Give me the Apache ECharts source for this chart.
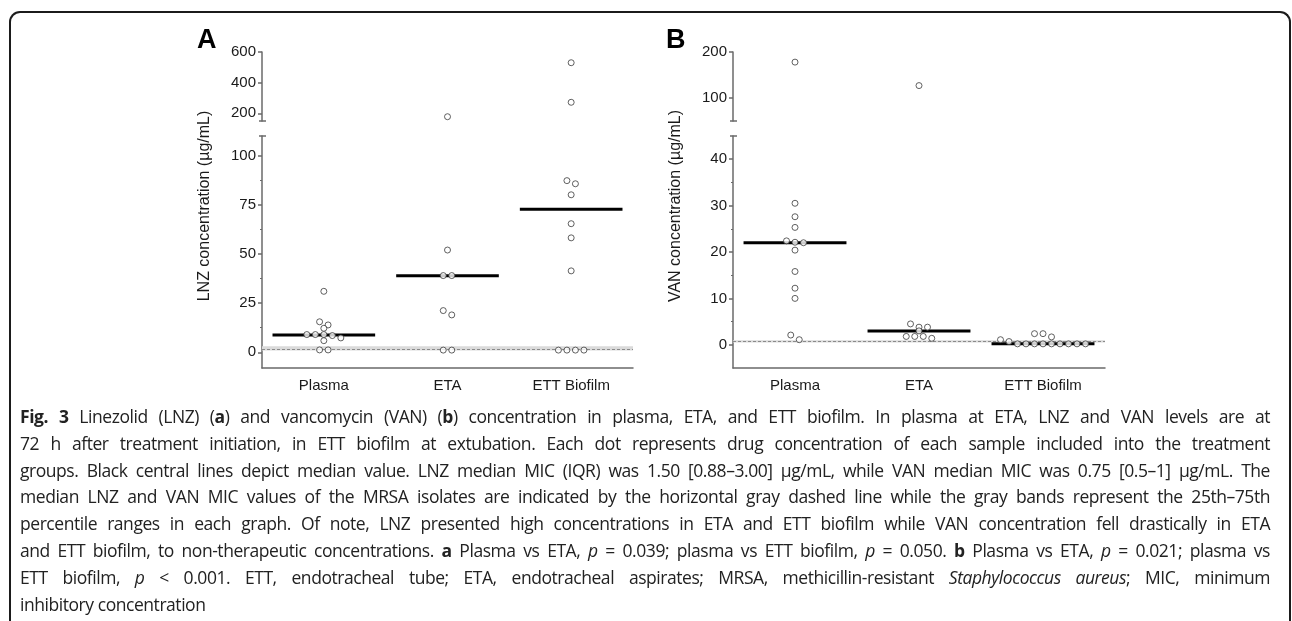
<!DOCTYPE html>
<html>
<head>
<meta charset="utf-8">
<script src="https://cdn.jsdelivr.net/npm/echarts@6/dist/echarts.min.js"></script>
<style>
  html, body { margin: 0; padding: 0; background: #fff; width: 1292px; height: 621px; overflow: hidden; }
  #chart { position: absolute; left: 0; top: 0; width: 1292px; height: 400px; }
  .frame { position: absolute; left: 9px; top: 11px; width: 1278px; height: 700px; border: 2px solid #1b1b1b;
           border-bottom: none; border-radius: 11px 11px 0 0; pointer-events: none; }
  .caption { position: absolute; left: 20px; top: 403px; width: 1250px; font-family: "Open Sans", sans-serif;
             font-size: 17.5px; line-height: 26.8px; color: #222; letter-spacing: -0.45px; }
  .caption div { white-space: nowrap; text-align: justify; text-align-last: justify; }
  .caption div.last { text-align-last: left; }
</style>
</head>
<body>
<div id="chart"></div>
<div class="frame"></div>
<div class="caption" id="caption">
  <div><b>Fig. 3</b> Linezolid (LNZ) (<b>a</b>) and vancomycin (VAN) (<b>b</b>) concentration in plasma, ETA, and ETT biofilm. In plasma at ETA, LNZ and VAN levels are at</div>
  <div>72 h after treatment initiation, in ETT biofilm at extubation. Each dot represents drug concentration of each sample included into the treatment</div>
  <div>groups. Black central lines depict median value. LNZ median MIC (IQR) was 1.50 [0.88–3.00] µg/mL, while VAN median MIC was 0.75 [0.5–1] µg/mL. The</div>
  <div>median LNZ and VAN MIC values of the MRSA isolates are indicated by the horizontal gray dashed line while the gray bands represent the 25th–75th</div>
  <div>percentile ranges in each graph. Of note, LNZ presented high concentrations in ETA and ETT biofilm while VAN concentration fell drastically in ETA</div>
  <div>and ETT biofilm, to non-therapeutic concentrations. <b>a</b> Plasma vs ETA, <i>p</i> = 0.039; plasma vs ETT biofilm, <i>p</i> = 0.050. <b>b</b> Plasma vs ETA, <i>p</i> = 0.021; plasma vs</div>
  <div>ETT biofilm, <i>p</i> &lt; 0.001. ETT, endotracheal tube; ETA, endotracheal aspirates; MRSA, methicillin-resistant <i>Staphylococcus aureus</i>; MIC, minimum</div>
  <div class="last">inhibitory concentration</div>
</div>
<script>
// values (µg/mL)
const categories = ['Plasma', 'ETA', 'ETT Biofilm'];

const lnzPlasma = [31, 15.5, 13.9, 12.2, 9.0, 9.0, 9.0, 8.5, 7.3, 5.9, 1.2, 1.2];
const lnzEta = [178, 52, 39, 39, 21.2, 19, 1.1, 1.1];
const lnzBiofilm = [530, 272, 87.3, 85.7, 80.1, 65.4, 58.2, 41.4, 1.1, 1.1, 1.1, 1.1];
const lnzMedians = [8.8, 38.9, 72.7];
const lnzMic = [0.88, 1.5, 3.0]; // q1, median, q3

const vanPlasma = [178, 30.5, 27.6, 25.3, 22.4, 22.1, 22.0, 20.4, 15.8, 12.2, 10.0, 2.1, 1.1];
const vanEta = [127, 4.5, 3.8, 3.8, 3.0, 1.8, 1.8, 1.8, 1.4];
const vanBiofilm = [2.4, 2.4, 1.7, 1.1, 0.7, 0.2, 0.2, 0.2, 0.2, 0.2, 0.2, 0.2, 0.2, 0.2];
const vanMedians = [22.0, 3.0, 0.2];
const vanMic = [0.5, 0.75, 1.0];

const lnzUpperTicks = [200, 400, 600];
const lnzLowerTicks = [0, 25, 50, 75, 100];
const lnzMinorTicks = [12.5, 37.5, 62.5, 87.5];
const vanUpperTicks = [100, 200];
const vanLowerTicks = [0, 10, 20, 30, 40];
const vanMinorTicks = [5, 15, 25, 35];

// layout
const upperTop = 52, upperH = 69, lowerTop = 136, lowerH = 232;
const DOT_STEP = 8.5, ROW_GAP = 5;
const axisColor = '#6a6a6a';
const font = '"Liberation Sans", Arial, sans-serif';

const panels = [
  { letter: 'A', letterX: 197, titleX: 205, left: 262, width: 371, upper: [150, 600], lower: [-8, 110],
    groups: [lnzPlasma, lnzEta, lnzBiofilm], medians: lnzMedians, mic: lnzMic,
    upperTicks: lnzUpperTicks, lowerTicks: lnzLowerTicks, minorTicks: lnzMinorTicks,
    title: 'LNZ concentration (µg/mL)' },
  { letter: 'B', letterX: 666, titleX: 676, left: 733, width: 372, upper: [50, 200], lower: [-5, 45],
    groups: [vanPlasma, vanEta, vanBiofilm], medians: vanMedians, mic: vanMic,
    upperTicks: vanUpperTicks, lowerTicks: vanLowerTicks, minorTicks: vanMinorTicks,
    title: 'VAN concentration (µg/mL)' }
];

function pxOf(p, v) {
  if (v > p.lower[1]) return upperTop + (p.upper[1] - v) / (p.upper[1] - p.upper[0]) * upperH;
  return lowerTop + (p.lower[1] - v) / (p.lower[1] - p.lower[0]) * lowerH;
}

// prism-like scatter: points closer than ROW_GAP px share a row, spread sideways
function swarm(p, values, center) {
  const items = values.map(v => ({ v: v, y: pxOf(p, v) })).sort((a, b) => a.y - b.y || b.v - a.v);
  const rows = [];
  items.forEach(it => {
    const row = rows[rows.length - 1];
    if (row && it.y - row[0].y < ROW_GAP) row.push(it);
    else rows.push([it]);
  });
  const unit = categories.length / p.width;
  const pts = [];
  rows.forEach(row => row.forEach((it, i) => {
    pts.push([center + (i - (row.length - 1) / 2) * DOT_STEP * unit, it.v]);
  }));
  return pts;
}

const option = { animation: false, grid: [], xAxis: [], yAxis: [], series: [], graphic: [] };

const lineStyle = { color: axisColor, width: 1.5 };
const labelStyle = { color: '#1a1a1a', fontSize: 15, fontFamily: font };

panels.forEach(p => {
  const gU = option.grid.length;
  option.grid.push(
    { left: p.left, width: p.width, top: upperTop, height: upperH },
    { left: p.left, width: p.width, top: lowerTop, height: lowerH }
  );
  const xU = option.xAxis.length;
  option.xAxis.push(
    { type: 'value', gridIndex: gU, min: 0, max: 3, show: false },
    { type: 'value', gridIndex: gU + 1, min: 0, max: 3, show: false },
    { type: 'category', gridIndex: gU + 1, data: categories, position: 'bottom',
      axisLine: { onZero: false, lineStyle: lineStyle },
      axisTick: { alignWithLabel: true, length: 3, lineStyle: lineStyle },
      axisLabel: Object.assign({ margin: 10 }, labelStyle), splitLine: { show: false } }
  );
  const yU = option.yAxis.length;
  option.yAxis.push(
    { type: 'value', gridIndex: gU, min: p.upper[0], max: p.upper[1], position: 'left',
      axisLine: { show: true, onZero: false, lineStyle: lineStyle },
      axisTick: { show: true, length: 4, customValues: p.upperTicks, lineStyle: lineStyle },
      axisLabel: Object.assign({ margin: 6, customValues: p.upperTicks }, labelStyle), splitLine: { show: false } },
    { type: 'value', gridIndex: gU + 1, min: p.lower[0], max: p.lower[1], position: 'left',
      axisLine: { show: true, onZero: false, lineStyle: lineStyle },
      axisTick: { show: true, length: 4, customValues: p.lowerTicks, lineStyle: lineStyle },
      axisLabel: Object.assign({ margin: 6, customValues: p.lowerTicks }, labelStyle), splitLine: { show: false } },
    { type: 'value', gridIndex: gU + 1, min: p.lower[0], max: p.lower[1], position: 'left',
      axisLine: { show: false, onZero: false },
      axisTick: { show: true, length: 2, customValues: p.minorTicks, lineStyle: { color: axisColor, width: 1 } },
      axisLabel: { show: false }, splitLine: { show: false } }
  );

  let upperPts = [], lowerPts = [];
  p.groups.forEach((vals, i) => {
    swarm(p, vals, i + 0.5).forEach(pt => (pt[1] > p.lower[1] ? upperPts : lowerPts).push(pt));
  });
  const dot = { symbol: 'circle', symbolSize: 6, itemStyle: { color: '#fff', borderColor: '#3a3a3a', borderWidth: 1 } };

  option.series.push(
    Object.assign({ type: 'scatter', xAxisIndex: xU, yAxisIndex: yU, data: upperPts, z: 5, silent: true }, dot),
    Object.assign({ type: 'scatter', xAxisIndex: xU + 1, yAxisIndex: yU + 1, data: lowerPts, z: 5, silent: true,
      markArea: { silent: true, itemStyle: { color: '#dadada' }, data: [[{ yAxis: p.mic[0] }, { yAxis: p.mic[2] }]] },
      markLine: { silent: true, symbol: 'none', label: { show: false },
        lineStyle: { type: [3, 2], color: '#8a8a8a', width: 1 }, data: [{ yAxis: p.mic[1] }] } }, dot),
    { type: 'custom', xAxisIndex: xU + 1, yAxisIndex: yU + 1, z: 3, silent: true,
      data: p.medians.map((m, i) => [i + 0.5, m]),
      renderItem: function (params, api) {
        const a = api.coord([api.value(0) - 0.415, api.value(1)]);
        const b = api.coord([api.value(0) + 0.415, api.value(1)]);
        return { type: 'line', shape: { x1: a[0], y1: a[1], x2: b[0], y2: b[1] },
                 style: { stroke: '#000', lineWidth: 3 } };
      } }
  );

  option.graphic.push(
    { type: 'text', left: p.letterX, top: 27,
      style: { text: p.letter, font: 'bold 27px ' + font, fill: '#000' } },
    { type: 'text', x: p.titleX, y: 206, rotation: Math.PI / 2,
      style: { text: p.title, font: '16px ' + font, fill: '#1a1a1a', align: 'center', verticalAlign: 'middle' } },
    { type: 'line', shape: { x1: p.left - 3, y1: upperTop + upperH, x2: p.left + 4, y2: upperTop + upperH },
      style: { stroke: axisColor, lineWidth: 1.5 } },
    { type: 'line', shape: { x1: p.left - 3, y1: lowerTop, x2: p.left + 4, y2: lowerTop },
      style: { stroke: axisColor, lineWidth: 1.5 } }
  );
});

const chart = echarts.init(document.getElementById('chart'));
chart.setOption(option);

// shrink the caption a little if a line would not fit the frame
const cap = document.getElementById('caption');
let size = 17.5;
while (size > 12 && Array.from(cap.children).some(d => d.scrollWidth > cap.clientWidth)) {
  size -= 0.25;
  cap.style.fontSize = size + 'px';
}
</script>
</body>
</html>
